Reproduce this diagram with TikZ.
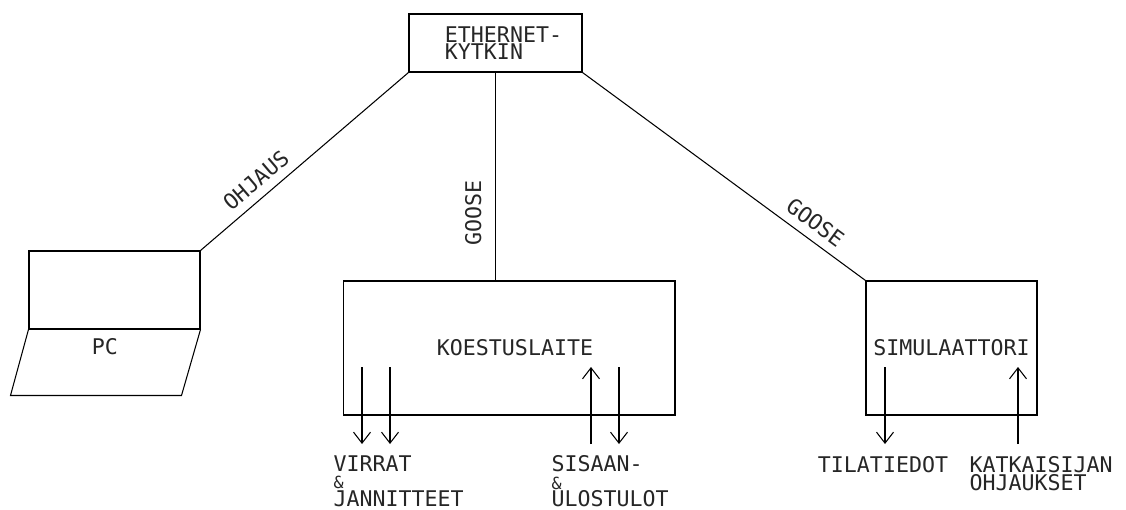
\documentclass[tikz,border=0pt]{standalone}
\usepackage{fontspec}
\setmonofont{DejaVu Sans Mono}
\usetikzlibrary{arrows.meta,calc}

\begin{document}
\begin{tikzpicture}[
  x=0.02cm, y=-0.02cm,
  line width=0.6pt,
  b/.style={rectangle, draw, inner sep=0pt, align=left, text=black!85,
            font=\ttfamily\fontsize{12.3}{10}\selectfont},
  t/.style={inner sep=0pt, align=left, text=black!85,
            font=\ttfamily\fontsize{12.3}{10}\selectfont},
  >={Straight Barb[length=2.2mm, width=3.4mm]}
]
\useasboundingbox (0,0) rectangle (1126,510);
\node[b, minimum width=3.46cm, minimum height=1.16cm] (eth) at (495.5,43)
  {\hspace*{0.32cm}ETHERNET-\\\hspace*{0.32cm}KYTKIN};
\node[b, minimum width=3.42cm, minimum height=1.56cm] (pc) at (114.5,290) {};
\draw (pc.south west) -- ++(-18,66) -- ++(171,0) -- (pc.south east);
\node[t] (pctxt) at (105,347) {PC};
\node[b, minimum width=6.64cm, minimum height=2.68cm] (koe) at (509,348) {\hspace*{0.24cm}KOESTUSLAITE};
\node[b, minimum width=3.42cm, minimum height=2.68cm] (sim) at (951.5,348) {SIMULAATTORI};
\draw (pc.north east) -- node[t, sloped, above, pos=0.32, inner sep=0.17cm] {OHJAUS} (eth.south west);
\draw (koe.north -| eth.south) -- node[t, sloped, above, pos=0.325, inner sep=0.27cm] {GOOSE} (eth.south);
\draw (eth.south east) -- node[t, sloped, above, pos=0.787, inner sep=0.17cm] {GOOSE} (sim.north west);
\node[t, anchor=north west] (vir) at (333,455) {VIRRAT\\{\fontsize{9.5}{10}\selectfont\&}\\JANNITTEET};
\node[t, anchor=north west] (sis) at (551,455) {SISAAN-\\{\fontsize{9.5}{10}\selectfont\&}\\ULOSTULOT};
\node[t, anchor=north] (til) at (883,456) {TILATIEDOT};
\node[t, anchor=north west] (kat) at (969,456) {KATKAISIJAN\\OHJAUKSET};
\foreach \x in {362,390,619,885}{\draw[->] (\x,367) -- (\x,444);}
\foreach \x in {591,1018}{\draw[->] (\x,444) -- (\x,367);}
\end{tikzpicture}
\end{document}
